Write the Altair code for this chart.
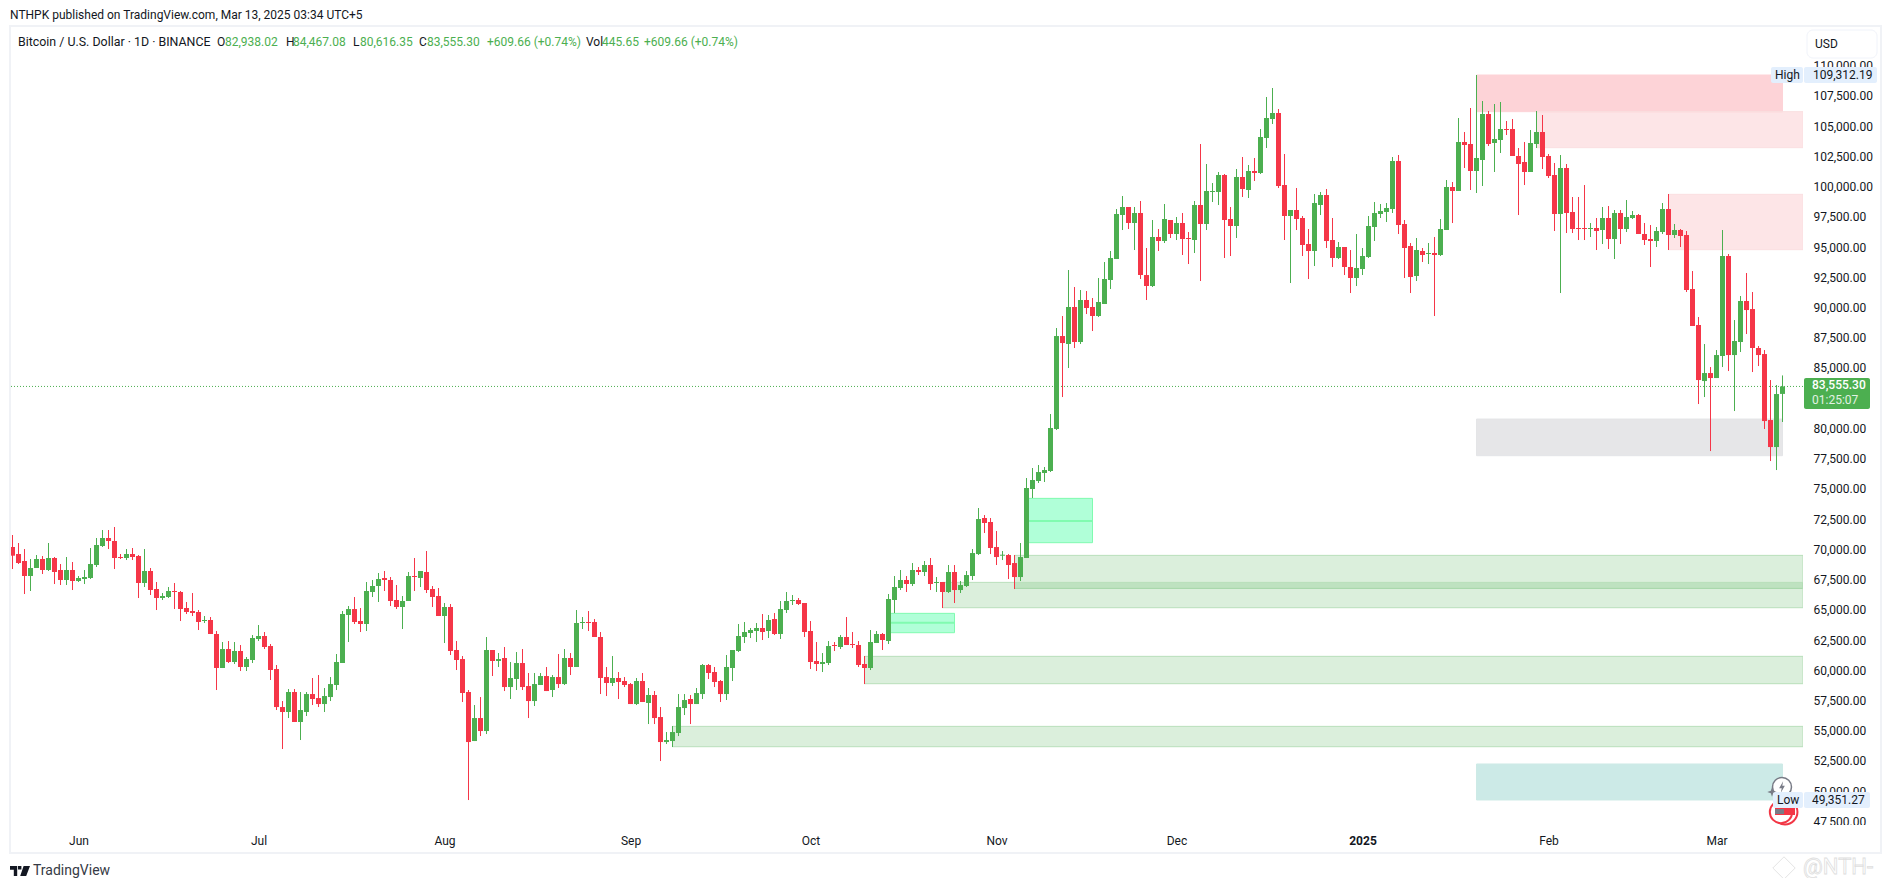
import altair as alt
import pandas as pd

FONT = "Roboto"
GREEN = "#4caf50"
RED = "#f53648"
INK = "#131722"

sides = list(
    "RRRGGRGRRGR" "GGGGGRRRGR" "RGRRGGRRRR" "RGRRGRGRGG" "GRRRRGRGGR"
    "RGGGGGRRGG" "GRRRGGRGRR" "RGRRRRGRGR" "GRGGRRGGRG" "RGRGGRRRRG"
    "RRRGRGRRGG" "GGRGGRRRGG" "GGGGRGRGGG" "RRRRGGRGRR" "RRGGRGGGRG"
    "RGRGRGRGGG" "GRRRGRRGGG" "GGGGRGRGRR" "GGGGGRGRRG" "RGRGRRGRGG"
    "GRRGRGRGGG" "RRGRRRGGRR" "GRRGGGGGGG" "RRRGRGRGGR" "GRRGGRGGRR"
    "RRGGRRRGRR" "RRGRGRGRGG" "RRRGGRGRRR" "RGRGGRGGRR" "RRRGG"
)

highs = [
    71269, 70608, 70111, 69284, 69615, 69532, 70608, 69450, 68871, 69450, 69036,
    67878, 68374, 70194, 71021, 71683, 71683, 71931, 69698, 70111, 70194,
    69615, 70111, 68540, 67382, 66472, 66968, 67299, 66638, 65728, 66472,
    65066, 64570, 64487, 63329, 62419, 62502, 62419, 62171, 61179, 62998,
    63825, 63246, 62254, 60517, 57539, 58532, 58532, 58284, 58284, 59442,
    59690, 58615, 59524, 61427, 64983, 65397, 66141, 65231, 67382, 67547,
    68126, 68292, 67796, 67134, 66224, 68209, 69367, 68292, 69946, 67051,
    66886, 65645, 65562, 62502, 61261, 58449, 57208, 57870, 62833, 61758,
    61510, 62006, 60765, 61592, 61840, 59855, 59855, 59855, 60352, 59690,
    61427, 61840, 61510, 65066, 64487, 64983, 64322, 63246, 60352, 61261,
    59938, 59524, 59028, 59442, 59855, 58615, 58366, 57043, 54975, 55472,
    58118, 58118, 58036, 58615, 60600, 60600, 60352, 59276, 61344, 61758,
    63908, 64073, 63577, 63991, 64735, 64653, 64818, 65810, 66555, 66307,
    66058, 65645, 64156, 62419, 61510, 62502, 62419, 62998, 64487, 63246,
    62502, 61261, 63412, 63329, 63164, 66389, 67878, 68374, 67878, 68953,
    68623, 69119, 69367, 67796, 67382, 68788, 68787, 67463, 68290, 70110,
    73501, 72922, 72674, 71599, 69945, 69696, 69614, 70606, 75982, 76810,
    77057, 76892, 81276, 88387, 89379, 93184, 91778, 91530, 91447, 90868,
    92522, 93846, 94756, 98229, 99305, 98395, 98395, 98891, 95004, 97320,
    96575, 98643, 97320, 97568, 97899, 96327, 98891, 103606, 101951, 100380,
    101290, 101124, 98395, 101538, 102530, 101869, 102448, 104846, 107493, 108237,
    106500, 102778, 98147, 99966, 97651, 96575, 99470, 99635, 99884, 97485,
    95500, 95087, 94838, 96161, 95004, 97651, 98808, 98643, 98726, 102530,
    102696, 97320, 95417, 95831, 95004, 95417, 95913, 97402, 100628, 100462,
    105756, 104598, 106583, 109312, 107162, 106335, 106914, 107079, 105508, 105673,
    103274, 103771, 104763, 106335, 106004, 102778, 102034, 102696, 101951, 99222,
    99222, 100214, 97071, 97485, 98395, 98477, 98147, 98147, 98974, 98064,
    97816, 97071, 96906, 96741, 98726, 99470, 96989, 96575, 96410, 93101,
    89297, 87063, 85161, 86567, 96492, 94508, 89048, 91033, 92936, 91364,
    86898, 86567, 84086, 83672, 84467,
]

body_tops = [
    70277, 69698, 69119, 68540, 69284, 69284, 69367, 69367, 68374, 68374, 68374,
    67713, 67796, 68871, 70442, 71021, 71021, 70773, 69450, 69698, 69698,
    69532, 68292, 68292, 66803, 66224, 66638, 66638, 66555, 65231, 64983,
    64900, 64239, 64239, 63081, 61840, 61840, 61675, 61675, 61013, 62750,
    62916, 62916, 62088, 60186, 57043, 58284, 58284, 56795, 58118, 58118,
    57787, 57953, 58945, 60765, 64735, 65148, 65148, 64156, 66638, 67051,
    67630, 67713, 67547, 65893, 65810, 67878, 67878, 68292, 68209, 66803,
    66224, 65314, 65314, 61758, 61013, 58284, 56133, 56133, 61758, 61758,
    61013, 61096, 59442, 60682, 60682, 58780, 58945, 59607, 59607, 59524,
    59524, 61096, 61096, 63991, 64073, 64073, 64073, 62833, 59524, 59442,
    59442, 59194, 58945, 59194, 59194, 58036, 58036, 56216, 54314, 54975,
    57043, 57622, 57705, 58201, 60517, 60517, 59938, 59194, 60352, 61758,
    62916, 63246, 63412, 63577, 63577, 64239, 64322, 65148, 65810, 65893,
    65893, 65645, 63329, 60848, 60765, 62088, 62171, 62833, 62833, 62254,
    62171, 60600, 62419, 63081, 63081, 65976, 66968, 67547, 67547, 68374,
    68374, 68788, 68788, 67382, 67382, 68209, 68208, 67132, 67959, 69779,
    72591, 72674, 72343, 70275, 69641, 69614, 68952, 69448, 75155, 75817,
    76478, 76644, 80118, 87725, 87725, 90124, 90124, 90703, 90703, 90124,
    90538, 92440, 94177, 97816, 98395, 98395, 97899, 97899, 92770, 95913,
    95913, 97402, 97320, 97072, 97072, 95831, 98560, 98560, 99718, 99718,
    101042, 101042, 97402, 100876, 100876, 101372, 101372, 104185, 105756, 106170,
    106170, 100214, 98147, 98147, 97485, 95335, 98726, 99387, 99387, 95666,
    95087, 95087, 93432, 93350, 94342, 96823, 97899, 98064, 98312, 102199,
    102199, 96989, 95169, 94838, 94756, 94590, 94590, 96575, 100049, 100049,
    103771, 103771, 103605, 102447, 106087, 106087, 104019, 104846, 104846, 104846,
    102613, 102117, 103688, 104598, 104598, 102613, 101041, 101620, 101620, 97981,
    96658, 96658, 96658, 96658, 97485, 97485, 97898, 97898, 97568, 97733,
    97733, 96161, 95748, 96410, 98229, 98229, 96492, 96492, 96079, 91613,
    88635, 84665, 84665, 86153, 94342, 94342, 87312, 90620, 90620, 89958,
    86733, 86236, 80778, 82928, 83555,
]

body_bottoms = [
    69560, 68953, 67878, 67878, 68540, 68374, 68374, 68209, 67547, 67547, 67464,
    67464, 67630, 67713, 68788, 70359, 70773, 69367, 69367, 69367, 69450,
    67299, 67299, 66720, 66058, 66058, 66141, 66555, 65148, 64900, 64818,
    64073, 64156, 63081, 60269, 60269, 60765, 60765, 60352, 60352, 60930,
    62667, 62006, 60103, 57043, 56630, 56630, 55803, 55803, 56630, 57705,
    57291, 57291, 57870, 58863, 60682, 64653, 64073, 63908, 63908, 66555,
    67051, 67547, 65810, 65314, 65314, 65810, 67796, 67713, 66720, 66141,
    64570, 64570, 61675, 60930, 58201, 54148, 54231, 55058, 55058, 60848,
    60848, 58697, 58697, 59359, 58697, 57539, 57539, 58863, 58366, 58449,
    58945, 58945, 60352, 60352, 63991, 63991, 62833, 59442, 59028, 59028,
    59111, 58863, 57291, 57291, 57457, 57374, 56133, 54148, 54148, 54231,
    54893, 56960, 57291, 57291, 58118, 59855, 59111, 58118, 58118, 60269,
    61675, 62833, 63164, 63329, 63246, 63329, 63081, 63081, 65066, 65810,
    65562, 63246, 60765, 60600, 60600, 60682, 62088, 62006, 62171, 62171,
    60517, 60269, 60269, 62336, 62585, 62502, 65893, 66886, 67216, 67216,
    68209, 68209, 67216, 67299, 66555, 66555, 66719, 66719, 67050, 67877,
    69696, 72260, 70193, 69448, 69558, 68787, 67794, 67794, 69366, 75073,
    75734, 76396, 76561, 80035, 87146, 87064, 87229, 87229, 90041, 89379,
    89379, 90372, 92357, 94094, 97733, 97072, 97072, 92770, 91861, 91861,
    95583, 95583, 96161, 96161, 95748, 95748, 95665, 96989, 96989, 99635,
    99635, 97320, 96823, 96823, 99884, 99801, 101207, 101207, 104102, 105673,
    100132, 97651, 97651, 97402, 95252, 94756, 94756, 98560, 95583, 94177,
    94177, 93432, 92522, 92522, 93267, 94259, 96741, 97816, 97981, 98229,
    96906, 95004, 92605, 92688, 94425, 94508, 94425, 94425, 96492, 99718,
    99718, 103523, 101372, 101372, 102282, 103605, 103688, 103936, 104763, 102613,
    101951, 101290, 101290, 103605, 102530, 100959, 97816, 97816, 97899, 96575,
    96575, 96575, 96575, 96410, 96492, 95748, 95748, 96575, 96575, 97485,
    96161, 95665, 95583, 95583, 96327, 96079, 96079, 95996, 91530, 88552,
    84086, 84003, 84251, 84251, 86071, 86153, 86153, 87230, 89875, 86733,
    86153, 80695, 78545, 78545, 82938,
]

lows = [
    68457, 68871, 66389, 66638, 68540, 68043, 68292, 67216, 67134, 67134, 66720,
    67382, 67216, 67630, 68623, 70277, 70111, 68457, 69284, 69201, 69201,
    66058, 66968, 66307, 65066, 65893, 66058, 65148, 64156, 64735, 64570,
    63412, 63991, 63081, 58449, 60269, 60682, 60600, 60021, 60021, 60682,
    62502, 61840, 59276, 56795, 53570, 56133, 55803, 54314, 56299, 57208,
    57043, 56630, 57539, 58449, 60682, 62419, 63908, 63246, 63329, 66141,
    65728, 66638, 65397, 65148, 63494, 65810, 66638, 66968, 66472, 65314,
    64570, 62336, 61344, 60103, 57457, 49351, 54231, 54644, 54810, 59607,
    60352, 58366, 57705, 58449, 58449, 56133, 57126, 58863, 58366, 57870,
    58615, 58863, 59690, 60352, 63494, 63329, 62833, 58118, 57953, 58780,
    57705, 58697, 57291, 57208, 57457, 55637, 55637, 52577, 53982, 53735,
    54644, 56381, 55637, 57291, 57705, 59359, 58697, 57457, 57622, 59194,
    61592, 62336, 62750, 62419, 62585, 62750, 62998, 62667, 64818, 65480,
    65480, 62833, 60186, 60021, 59938, 60517, 61675, 61840, 62171, 61923,
    60352, 58945, 60103, 62336, 61758, 62254, 64818, 66720, 66555, 67051,
    67961, 67878, 66720, 66555, 65231, 66472, 65644, 66471, 66967, 67546,
    69614, 71433, 69696, 68787, 69200, 67629, 66801, 67463, 69366, 74328,
    75568, 75652, 76478, 79952, 82680, 85079, 86733, 87064, 89545, 88139,
    89297, 90372, 91613, 94094, 96492, 96575, 94838, 92440, 90703, 91778,
    94756, 95417, 95831, 95665, 94425, 93680, 94590, 92274, 96492, 98808,
    98560, 94177, 94342, 95831, 99222, 99139, 100545, 101124, 103275, 105260,
    99966, 95666, 92109, 96492, 94342, 92440, 93515, 97733, 95004, 93432,
    94094, 92770, 91282, 91861, 92770, 94177, 95583, 97485, 97154, 97899,
    96161, 92522, 91282, 92274, 93846, 93680, 89379, 94342, 96492, 97071,
    99718, 101620, 99801, 99553, 100132, 103440, 101290, 102861, 104350, 102613,
    97733, 100214, 101290, 103274, 101537, 100793, 96410, 91282, 96244, 96244,
    95665, 95665, 95913, 94838, 95334, 94921, 94094, 95334, 96327, 97402,
    96161, 95252, 93432, 95086, 96161, 94838, 95831, 95086, 91364, 88552,
    82101, 82680, 78213, 84251, 85161, 84830, 81522, 86402, 87891, 84747,
    85243, 80034, 77387, 76642, 80616,
]

dates = pd.date_range("2024-05-21", periods=len(highs), freq="D").strftime("%Y-%m-%dT00:00:00Z").tolist()

price_ticks = [p for p in range(47500, 110001, 2500) if p != 82500]
last_close = 83555.30
last_close_label = "83,555.30"
countdown = "01:25:07"

zone_kind = ["supply_strong", "supply", "supply", "demand", "demand", "demand", "demand",
             "fvg", "fvg", "neutral", "teal"]
zone_start = ["2025-01-20", "2025-01-30", "2025-02-21", "2024-11-04", "2024-10-23", "2024-10-10", "2024-09-08",
              "2024-10-14", "2024-11-06", "2025-01-20", "2025-01-20"]
zone_end = ["2025-03-12", "2025-03-15T10:00:00", "2025-03-15T10:00:00", "2025-03-15T10:00:00",
            "2025-03-15T10:00:00", "2025-03-15T10:00:00", "2025-03-15T10:00:00",
            "2024-10-25", "2024-11-17", "2025-03-12", "2025-03-12"]
zone_top = [109312, 106280, 99443, 69586, 67353, 61234, 55444, 64790, 74300, 80860, 52332]
zone_bottom = [106280, 103302, 94866, 66857, 65257, 58973, 53762, 63190, 70634, 77827, 49355]

fvg_start = ["2024-10-14", "2024-11-06"]
fvg_end = ["2024-10-25", "2024-11-17"]
fvg_mid = [64018, 72426]


def iso(s):
    return (s if "T" in s else s + "T00:00:00") + "Z"


candles = pd.DataFrame({"date": dates, "side": sides, "high": highs, "top": body_tops,
                        "bottom": body_bottoms, "low": lows})
zones = pd.DataFrame({"kind": zone_kind, "start": [iso(s) for s in zone_start], "end": [iso(s) for s in zone_end],
                      "top": zone_top, "bottom": zone_bottom})
fvg = pd.DataFrame({"start": [iso(s) for s in fvg_start], "end": [iso(s) for s in fvg_end], "mid": fvg_mid})

PLOT_W, PLOT_H = 1792, 798
OX, OY = 11, 27  # page position of the plot area

xscale = alt.Scale(type="utc", padding=0,
                   domain=[alt.DateTime(year=2024, month=5, date=20, hours=18, utc=True),
                           alt.DateTime(year=2025, month=3, date=15, hours=10, utc=True)])
yscale = alt.Scale(domain=[47287, 113282], nice=False, zero=False)

month_ticks = [alt.DateTime(year=y, month=m, date=1, utc=True) for y, m in
               [(2024, 6), (2024, 7), (2024, 8), (2024, 9), (2024, 10), (2024, 11), (2024, 12),
                (2025, 1), (2025, 2), (2025, 3)]]
x_axis = alt.Axis(values=month_ticks, title=None, grid=False, domain=False, ticks=False,
                  labelExpr="utcmonth(datum.value)==0 ? utcFormat(datum.value,'%Y') : utcFormat(datum.value,'%b')",
                  labelFontWeight={"condition": {"test": "utcmonth(datum.value)==0", "value": "bold"}, "value": "normal"},
                  labelFont=FONT, labelFontSize=12, labelColor=INK, labelPadding=10,
                  labelOverlap=False, labelFlush=False, labelBound=False)
y_axis = alt.Axis(values=price_ticks, orient="right", format=",.2f", title=None, grid=False, domain=False, ticks=False,
                  labelFont=FONT, labelFontSize=12, labelColor=INK, labelAlign="left", labelPadding=10, labelOffset=-1,
                  labelOverlap=False, labelFlush=False, labelBound=False)

one = alt.InlineData(values=[{"a": 1}])


def xenc(field):
    return alt.X(field, type="temporal", scale=xscale, axis=x_axis, title=None)


def yenc(field):
    return alt.Y(field, type="quantitative", scale=yscale, axis=y_axis, title=None)


def text(s, x, y, color=INK, size=12, align="left", **kw):
    return alt.Chart(one).mark_text(text=s, font=FONT, fontSize=size, color=color, align=align,
                                    baseline="middle", **kw).encode(x=alt.value(x - OX), y=alt.value(y - OY))


def box(x0, y0, x1, y1, fill, stroke=None, radius=0):
    kw = {"cornerRadius": radius} if radius else {}
    if stroke:
        kw.update(stroke=stroke, strokeWidth=1)
    return alt.Chart(one).mark_rect(fill=fill, **kw).encode(
        x=alt.value(x0 - OX), x2=alt.value(x1 - OX), y=alt.value(y0 - OY), y2=alt.value(y1 - OY))


def glyph(shape, x, y, size, fill=None, stroke=None, width=1.5):
    kw = {"shape": shape, "size": size, "opacity": 1}
    kw["filled"] = fill is not None
    if fill:
        kw["fill"] = fill
    if stroke:
        kw["stroke"] = stroke
        kw["strokeWidth"] = width
    return alt.Chart(one).mark_point(**kw).encode(x=alt.value(x - OX), y=alt.value(y - OY))


def zone_layer(kind, fill, alpha, stroke):
    part = zones[zones["kind"] == kind]
    return alt.Chart(part).mark_rect(clip=True, strokeWidth=1, fill=fill, fillOpacity=alpha, stroke=stroke).encode(
        x=xenc("start"), x2="end:T", y=yenc("top"), y2="bottom:Q")


zone_layers = [
    zone_layer("supply_strong", "#f7364a", 0.22, "#fdd3d7"),
    zone_layer("supply", "#f23645", 0.13, "#fadfe1"),
    zone_layer("demand", "#4caf50", 0.2, "#b9dfbb"),
    zone_layer("fvg", "#00ff80", 0.31, "#80fbb0"),
    zone_layer("neutral", "#787b86", 0.19, "#e4e5e7"),
    zone_layer("teal", "#009688", 0.2, "#cdeae6"),
]

mid_layer = alt.Chart(fvg).mark_rule(color="#80fbb0", strokeWidth=2, clip=True).encode(
    x=xenc("start"), x2="end:T", y=yenc("mid"))

last_layer = alt.Chart(pd.DataFrame({"p": [last_close]})).mark_rule(
    color=GREEN, strokeWidth=1, strokeDash=[1, 2]).encode(y=yenc("p"))

side_color = alt.Color("side:N", legend=None, scale=alt.Scale(domain=["G", "R"], range=[GREEN, RED]))
wicks = alt.Chart(candles).mark_rule(strokeWidth=1, clip=True).encode(
    x=xenc("date"), y=yenc("high"), y2="low:Q", color=side_color)
bodies = alt.Chart(candles).mark_bar(width=5, clip=True).encode(
    x=xenc("date"), y=yenc("top"), y2="bottom:Q", color=side_color)

frame = alt.Chart(one).mark_rect(fillOpacity=0, fill="#ffffff", stroke="#f0f2f6", strokeWidth=2).encode(
    x=alt.value(10 - OX), x2=alt.value(1881 - OX), y=alt.value(26 - OY), y2=alt.value(853 - OY))

TV_LOGO = ("M-1,-0.5 L-0.28,-0.5 L-0.28,0.5 L-0.62,0.5 L-0.62,-0.12 L-1,-0.12 Z "
           "M-0.2,-0.5 L0.14,-0.5 L0.14,-0.16 L-0.2,-0.16 Z "
           "M0.36,-0.5 L1,-0.5 L0.62,0.5 L0.02,0.5 Z")
BOLT = "M0.2,-1 L-0.5,0.2 L-0.05,0.2 L-0.2,1 L0.5,-0.2 L0.05,-0.2 Z"
SPARK = "M0,-1 L0.25,-0.25 L1,0 L0.25,0.25 L0,1 L-0.25,0.25 L-1,0 L-0.25,-0.25 Z"

G_TXT = "#4caf50"
annotations = [
    box(1805, 825, 1880, 836, "#ffffff"),
    # header and OHLC legend
    text("NTHPK published on TradingView.com, Mar 13, 2025 03:34 UTC+5", 10, 15),
    text("Bitcoin / U.S. Dollar · 1D · BINANCE", 18, 42, size=12.4),
    text("O", 217, 42), text("82,938.02", 225, 42, G_TXT),
    text("H", 286, 42), text("84,467.08", 293, 42, G_TXT),
    text("L", 353, 42), text("80,616.35", 360, 42, G_TXT),
    text("C", 419, 42), text("83,555.30", 427, 42, G_TXT),
    text("+609.66 (+0.74%)", 487, 42, G_TXT),
    text("Vol", 586, 42), text("445.65", 602, 42, G_TXT),
    text("+609.66 (+0.74%)", 644, 42, G_TXT),
    # currency box
    box(1807, 30, 1877, 58, "#ffffff", stroke="#f0f3fa", radius=6),
    text("USD", 1815, 44),
    # high label
    box(1771, 67, 1803, 83, "#e3effd", radius=2),
    box(1804, 67, 1877, 83, "#e3effd", radius=2),
    text("High", 1775, 75),
    text("109,312.19", 1813, 75),
    # event icons
    glyph("circle", 1785, 812, 620, fill="#ffffff", stroke="#f23645", width=2),
    glyph("circle", 1781, 812, 500, fill="#ffffff", stroke="#f23645", width=2),
    box(1775, 808, 1795, 815, "#f23645"),
    box(1775, 809, 1784, 814, "#787b86"),
    glyph("circle", 1782, 787, 360, fill="#ffffff", stroke="#787b86"),
    glyph(BOLT, 1782, 787, 130, fill="#787b86"),
    glyph(SPARK, 1772, 792, 90, fill="#787b86"),
    # low label
    box(1773, 792, 1803, 808, "#e3effd", radius=2),
    box(1804, 792, 1870, 808, "#e3effd", radius=2),
    text("Low", 1777, 800),
    text("49,351.27", 1812, 800),
    # last price tag
    box(1804, 378, 1870, 409, GREEN, radius=2),
    text(last_close_label, 1812, 385, "#ffffff", 12, fontWeight=500),
    text(countdown, 1812, 400, "#e2f2e3", 12),
    # footer
    glyph(TV_LOGO, 20, 871, 400, fill="#131722"),
    text("TradingView", 33, 871, "#363a45", 14),
    # watermark
    glyph("diamond", 1784, 868, 500, stroke="#e4e4e4", width=1),
    alt.Chart(one).mark_text(text="@NTH-", font=FONT, fontSize=22, align="left", baseline="middle",
                             color="#ffffff", stroke="#dedede", strokeWidth=0.8).encode(
        x=alt.value(1803 - OX), y=alt.value(867 - OY)),
]

chart = alt.layer(frame, *zone_layers, mid_layer, last_layer, wicks, bodies, *annotations).properties(
    width=PLOT_W, height=PLOT_H,
    autosize=alt.AutoSizeParams(type="none"),
    padding={"left": OX - 8, "top": OY - 8, "right": 1875 - (OX - 8) - PLOT_W, "bottom": 870 - (OY - 8) - PLOT_H},
    background="#ffffff",
).configure_view(stroke=None)

chart.save("out.html", embed_options={"renderer": "svg", "actions": False})
